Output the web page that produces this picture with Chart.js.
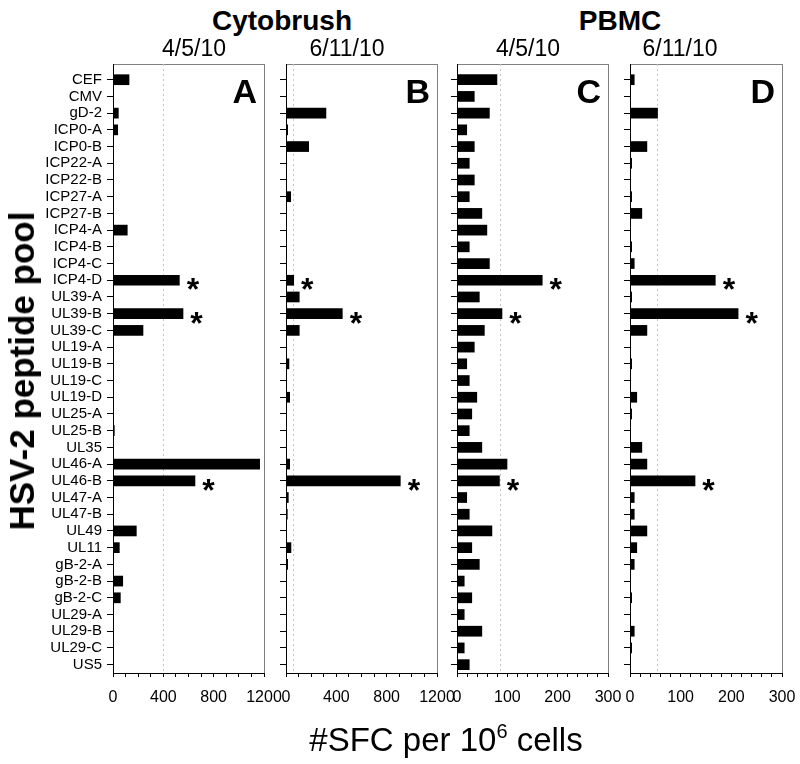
<!DOCTYPE html>
<html>
<head>
<meta charset="utf-8">
<script src="https://cdn.jsdelivr.net/npm/chart.js@4.4.1/dist/chart.umd.min.js"></script>
<style>
  body { margin: 0; background: #fff; }
  #page { position: relative; width: 800px; height: 764px; overflow: hidden; background: #fff;
          font-family: "Liberation Sans", Arial, sans-serif; color: #000; }
  canvas { position: absolute; top: 50px; }
  .t { position: absolute; white-space: nowrap; transform: translateX(-50%); }
  .group { top: 5px; font-size: 28px; font-weight: bold; line-height: 32px; }
  .date { top: 34px; font-size: 23px; line-height: 28px; }
  #xtitle { top: 721px; left: 446px; font-size: 33px; line-height: 38px; }
  #xtitle sup { font-size: 20px; vertical-align: 13px; line-height: 0; }
  #ytitle { position: absolute; left: 22px; top: 371px; font-size: 35px; font-weight: bold;
            white-space: nowrap; transform: translate(-50%, -50%) rotate(-90deg); }
</style>
</head>
<body>
<div id="page">
  <canvas id="panelA" width="300" height="680" style="left:0px"></canvas>
  <canvas id="panelB" width="209" height="680" style="left:264px"></canvas>
  <canvas id="panelC" width="209" height="680" style="left:435px"></canvas>
  <canvas id="panelD" width="210" height="680" style="left:608px"></canvas>

  <div class="t group" style="left:282px">Cytobrush</div>
  <div class="t group" style="left:620px">PBMC</div>
  <div class="t date" style="left:194px">4/5/10</div>
  <div class="t date" style="left:347px">6/11/10</div>
  <div class="t date" style="left:528px">4/5/10</div>
  <div class="t date" style="left:680px">6/11/10</div>
  <div class="t" id="xtitle">#SFC per 10<sup>6</sup> cells</div>
  <div id="ytitle">HSV-2 peptide pool</div>
</div>
<script>
// peptide pools, top to bottom
const peptidePools = ['CEF','CMV','gD-2','ICP0-A','ICP0-B','ICP22-A','ICP22-B','ICP27-A','ICP27-B',
  'ICP4-A','ICP4-B','ICP4-C','ICP4-D','UL39-A','UL39-B','UL39-C','UL19-A','UL19-B','UL19-C','UL19-D',
  'UL25-A','UL25-B','UL35','UL46-A','UL46-B','UL47-A','UL47-B','UL49','UL11','gB-2-A','gB-2-B',
  'gB-2-C','UL29-A','UL29-B','UL29-C','US5'];

// #SFC per 10^6 cells
const cytoApr = [130,0,45,40,0,0,0,0,0,116,0,0,530,0,559,241,0,0,0,0,0,13,0,1168,654,0,0,188,53,0,80,61,0,0,0,0];
const cytoJun = [5,0,320,16,183,0,3,40,8,0,4,4,64,108,450,108,0,26,0,32,5,0,8,32,911,21,13,5,42,16,5,0,0,8,4,0];
const pbmcApr = [80,35,65,20,35,25,35,25,50,60,25,65,170,45,90,55,35,20,25,40,30,25,50,100,85,20,25,70,30,45,15,30,15,50,15,25];
const pbmcJun = [9,0,55,0,34,4,0,4,24,0,4,9,169,4,214,34,0,4,0,14,4,0,24,34,129,9,9,34,14,9,0,4,0,9,4,0];

// positivity cut-offs (dotted lines)
const cytoAprCut = 400;
const cytoJunCut = 55;
const pbmcAprCut = 86;
const pbmcJunCut = 53;

// pools marked with *
const cytoAprSig = ['ICP4-D','UL39-B','UL46-B'];
const cytoJunSig = ['ICP4-D','UL39-B','UL46-B'];
const pbmcAprSig = ['ICP4-D','UL39-B','UL46-B'];
const pbmcJunSig = ['ICP4-D','UL39-B','UL46-B'];

// axis ticks
const cytoTicks = [0, 400, 800, 1200];
const cytoMinor = 100;
const pbmcTicks = [0, 100, 200, 300];
const pbmcMinor = 20;

const FONT = '"Liberation Sans", Arial, sans-serif';
Chart.defaults.font.family = FONT;
Chart.defaults.color = '#000';

// frame, cut-off line, panel letter, asterisks
const panelMarks = {
  id: 'panelMarks',
  beforeDraw(chart) {
    const {ctx, chartArea: a} = chart;
    ctx.save();
    ctx.strokeStyle = '#808080';
    ctx.lineWidth = 1;
    ctx.strokeRect(Math.round(a.left) + 0.5, Math.round(a.top) + 0.5,
      Math.round(a.right - a.left), Math.round(a.bottom - a.top));
    ctx.restore();
  },
  beforeDatasetsDraw(chart, args, opts) {
    const {ctx, chartArea: a, scales: {x}} = chart;
    const px = Math.round(x.getPixelForValue(opts.cutoff)) + 0.5;
    ctx.save();
    ctx.strokeStyle = '#c4c4c4';
    ctx.lineWidth = 1;
    ctx.setLineDash([2, 3]);
    ctx.beginPath();
    ctx.moveTo(px, a.top);
    ctx.lineTo(px, a.bottom);
    ctx.stroke();
    ctx.restore();
  },
  afterDraw(chart, args, opts) {
    const {ctx, chartArea: a, scales: {x, y}} = chart;
    ctx.save();
    ctx.fillStyle = '#000';
    ctx.font = 'bold 34px ' + FONT;
    ctx.textAlign = 'right';
    ctx.textBaseline = 'alphabetic';
    ctx.fillText(opts.letter, a.right - 7, a.top + 39);

    ctx.font = 'bold 32px ' + FONT;
    ctx.textAlign = 'left';
    const m = ctx.measureText('*');
    opts.marked.forEach(name => {
      const i = peptidePools.indexOf(name);
      const xe = x.getPixelForValue(opts.values[i]);
      const yc = y.getPixelForValue(i) + 4;
      const base = yc + (m.actualBoundingBoxAscent - m.actualBoundingBoxDescent) / 2;
      ctx.fillText('*', xe + 7 + m.actualBoundingBoxLeft, base);
    });
    ctx.restore();
  }
};

function fnPanel(id, values, cutoff, marked, letter, major, minor, axisWidth, showNames) {
  const xMax = major[major.length - 1];
  new Chart(document.getElementById(id), {
    type: 'bar',
    data: {
      datasets: [{
        data: values.map((v, i) => ({x: v, y: i})),
        backgroundColor: '#000',
        borderWidth: 0,
        barPercentage: 0.64,
        categoryPercentage: 1
      }]
    },
    plugins: [panelMarks],
    options: {
      indexAxis: 'y',
      responsive: false,
      animation: false,
      layout: {padding: {top: 14, right: 36, left: 0, bottom: 0}},
      plugins: {
        legend: {display: false},
        tooltip: {enabled: false},
        panelMarks: {cutoff: cutoff, marked: marked, letter: letter, values: values}
      },
      scales: {
        y: {
          type: 'linear',
          reverse: true,
          offset: false,
          min: -0.94,
          max: peptidePools.length - 0.5,
          afterBuildTicks: s => { s.ticks = peptidePools.map((p, i) => ({value: i})); },
          afterFit: s => { s.width = axisWidth; },
          ticks: {
            autoSkip: false,
            font: {size: 15},
            padding: 5,
            callback: v => showNames ? peptidePools[v] : ''
          },
          grid: {offset: false, drawOnChartArea: false, drawTicks: true, tickLength: 6, color: '#000'},
          border: {display: true, color: '#000'}
        },
        x: {
          type: 'linear',
          min: 0,
          max: xMax,
          afterBuildTicks: s => {
            const t = [];
            for (let v = 0; v <= xMax; v += minor) t.push({value: v});
            s.ticks = t;
          },
          afterFit: s => { s.height = 57; },
          ticks: {
            autoSkip: false,
            maxRotation: 0,
            font: {size: 16},
            padding: 11,
            callback: v => major.includes(v) ? String(v) : ''
          },
          grid: {drawOnChartArea: false, drawTicks: true, tickLength: 4, color: '#000'},
          border: {display: true, color: '#000'}
        }
      }
    }
  });
}

fnPanel('panelA', cytoApr, cytoAprCut, cytoAprSig, 'A', cytoTicks, cytoMinor, 113, true);
fnPanel('panelB', cytoJun, cytoJunCut, cytoJunSig, 'B', cytoTicks, cytoMinor, 22, false);
fnPanel('panelC', pbmcApr, pbmcAprCut, pbmcAprSig, 'C', pbmcTicks, pbmcMinor, 22, false);
fnPanel('panelD', pbmcJun, pbmcJunCut, pbmcJunSig, 'D', pbmcTicks, pbmcMinor, 22, false);
</script>
</body>
</html>
